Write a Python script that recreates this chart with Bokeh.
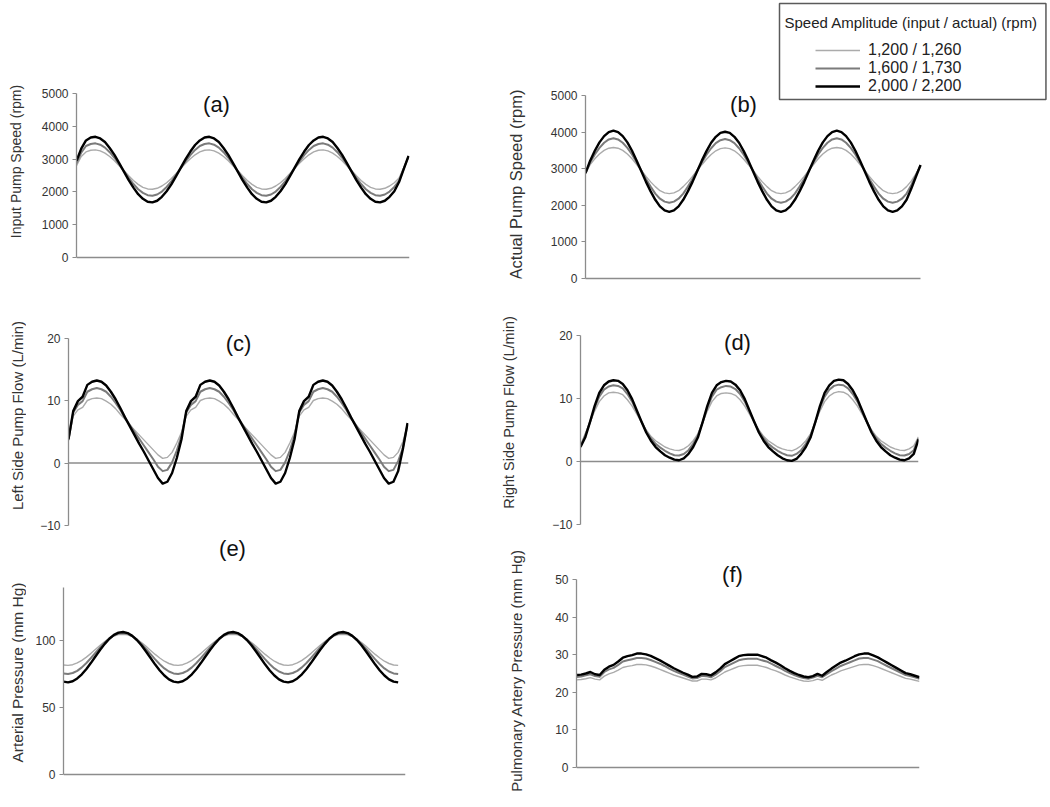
import math
from bokeh.plotting import figure
from bokeh.models import Range1d, FixedTicker, Label, Legend, LegendItem, Span
from bokeh.layouts import row, column
from bokeh.embed import file_html
from bokeh.resources import INLINE

# ---------------- data ----------------
series_names = ["1,200 / 1,260", "1,600 / 1,730", "2,000 / 2,200"]

# (a) Input pump speed (rpm)
a_light = [2800, 3080, 3220, 3270, 3280, 3250, 3180, 3080, 2950, 2800, 2650, 2490,
           2350, 2230, 2140, 2090, 2080, 2110, 2180, 2280, 2410, 2560, 2720, 2870,
           3010, 3130, 3220, 3270, 3280, 3250, 3180, 3080, 2950, 2800, 2650, 2490,
           2350, 2230, 2140, 2090, 2080, 2110, 2180, 2280, 2410, 2560, 2720, 2870,
           3010, 3130, 3220, 3270, 3280, 3250, 3180, 3080, 2950, 2800, 2650, 2490,
           2350, 2230, 2140, 2090, 2080, 2110, 2180, 2280, 2420, 2740, 3060]
a_mid = [2870, 3200, 3400, 3460, 3480, 3440, 3350, 3210, 3040, 2840, 2630, 2430,
         2240, 2080, 1970, 1900, 1880, 1920, 2010, 2150, 2320, 2520, 2730, 2930,
         3120, 3280, 3400, 3460, 3480, 3440, 3350, 3210, 3040, 2840, 2630, 2430,
         2240, 2080, 1970, 1900, 1880, 1920, 2010, 2150, 2320, 2520, 2730, 2930,
         3120, 3280, 3400, 3460, 3480, 3440, 3350, 3210, 3040, 2840, 2630, 2430,
         2240, 2080, 1970, 1900, 1880, 1920, 2010, 2150, 2340, 2720, 3080]
a_dark = [2950, 3320, 3570, 3660, 3680, 3630, 3520, 3340, 3130, 2880, 2620, 2360,
          2130, 1930, 1790, 1700, 1680, 1730, 1850, 2020, 2230, 2480, 2740, 3000,
          3230, 3430, 3570, 3660, 3680, 3630, 3520, 3340, 3130, 2880, 2620, 2360,
          2130, 1930, 1790, 1700, 1680, 1730, 1850, 2020, 2230, 2480, 2740, 3000,
          3230, 3430, 3570, 3660, 3680, 3630, 3520, 3340, 3130, 2880, 2620, 2360,
          2130, 1930, 1790, 1700, 1680, 1730, 1850, 2020, 2300, 2700, 3100]

# (b) Actual pump speed (rpm)
b_light = [2880, 3110, 3270, 3400, 3500, 3560, 3580, 3560, 3500, 3400, 3270, 3110,
           2950, 2790, 2640, 2510, 2400, 2340, 2320, 2340, 2400, 2510, 2640, 2790,
           2950, 3110, 3260, 3390, 3490, 3550, 3570, 3550, 3490, 3390, 3260, 3110,
           2950, 2790, 2640, 2510, 2400, 2340, 2320, 2340, 2400, 2510, 2640, 2790,
           2950, 3110, 3270, 3400, 3500, 3560, 3580, 3560, 3500, 3400, 3270, 3110,
           2950, 2790, 2640, 2510, 2400, 2340, 2320, 2340, 2400, 2510, 2660, 2860, 3080]
b_mid = [2880, 3170, 3390, 3570, 3710, 3800, 3830, 3800, 3710, 3570, 3390, 3170,
         2950, 2720, 2510, 2320, 2180, 2100, 2070, 2100, 2180, 2320, 2510, 2720,
         2950, 3170, 3380, 3560, 3700, 3780, 3810, 3780, 3700, 3560, 3380, 3170,
         2950, 2720, 2510, 2320, 2180, 2100, 2070, 2100, 2180, 2320, 2510, 2720,
         2950, 3170, 3390, 3570, 3710, 3800, 3830, 3800, 3710, 3570, 3390, 3170,
         2950, 2720, 2510, 2320, 2180, 2100, 2070, 2100, 2180, 2320, 2550, 2820, 3090]
b_dark = [2880, 3220, 3490, 3720, 3890, 4000, 4040, 4000, 3890, 3720, 3490, 3220,
          2930, 2640, 2380, 2150, 1970, 1860, 1820, 1860, 1970, 2150, 2380, 2640,
          2930, 3220, 3480, 3710, 3870, 3980, 4010, 3980, 3870, 3710, 3480, 3220,
          2930, 2640, 2380, 2150, 1970, 1860, 1820, 1860, 1970, 2150, 2380, 2640,
          2930, 3220, 3490, 3720, 3890, 4000, 4040, 4000, 3890, 3720, 3490, 3220,
          2930, 2640, 2380, 2150, 1970, 1860, 1820, 1860, 1970, 2150, 2450, 2780, 3100]

# (c) Left side pump flow (L/min)
c_light = [3.6, 7.5, 8.5, 8.9, 10.0, 10.3, 10.4, 10.3, 9.9, 9.4, 8.7, 7.8, 7.0, 6.1, 5.3,
           4.5, 3.7, 2.9, 2.1, 1.3,
           0.75, 0.9, 1.7, 3.2, 4.9, 7.5, 8.5, 8.9, 10.0, 10.3, 10.4, 10.3, 9.9, 9.4, 8.7,
           7.8, 7.0, 6.1, 5.3, 4.5, 3.7, 2.9, 2.1, 1.3,
           0.75, 0.9, 1.7, 3.2, 4.9, 7.5, 8.5, 8.9, 10.0, 10.3, 10.4, 10.3, 9.9, 9.4, 8.7,
           7.8, 7.0, 6.1, 5.3, 4.5, 3.7, 2.9, 2.1, 1.3,
           0.75, 0.9, 1.7, 3.4, 6.0]
c_mid = [3.8, 8.1, 9.3, 9.9, 11.4, 11.8, 12.0, 11.8, 11.4, 10.6, 9.6, 8.5, 7.2, 6.1, 5.0,
         3.9, 2.8, 1.7, 0.6, -0.6,
         -1.3, -1.1, 0.1, 2.0, 4.4, 8.1, 9.3, 9.9, 11.4, 11.8, 12.0, 11.8, 11.4, 10.6, 9.6,
         8.5, 7.2, 6.1, 5.0, 3.9, 2.8, 1.7, 0.6, -0.6,
         -1.3, -1.1, 0.1, 2.0, 4.4, 8.1, 9.3, 9.9, 11.4, 11.8, 12.0, 11.8, 11.4, 10.6, 9.6,
         8.5, 7.2, 6.1, 5.0, 3.9, 2.8, 1.7, 0.6, -0.6,
         -1.3, -1.1, 0.3, 2.4, 6.2]
c_dark = [3.8, 8.3, 9.9, 10.6, 12.5, 13.0, 13.2, 13.0, 12.4, 11.4, 10.2, 8.8, 7.3, 5.9, 4.5,
          3.1, 1.8, 0.4, -1.0, -2.4,
          -3.3, -3.0, -1.6, 0.8, 3.8, 8.3, 9.9, 10.6, 12.5, 13.0, 13.2, 13.0, 12.4, 11.4, 10.2,
          8.8, 7.3, 5.9, 4.5, 3.1, 1.8, 0.4, -1.0, -2.4,
          -3.3, -3.0, -1.6, 0.8, 3.8, 8.3, 9.9, 10.6, 12.5, 13.0, 13.2, 13.0, 12.4, 11.4, 10.2,
          8.8, 7.3, 5.9, 4.5, 3.1, 1.8, 0.4, -1.0, -2.4,
          -3.3, -3.0, -1.3, 2.2, 6.4]

# (d) Right side pump flow (L/min)
d_light = [2.5, 4.4, 6.1, 8.0, 9.5, 10.4, 10.9, 11.0, 10.9, 10.6, 9.8, 8.8,
           7.5, 6.2, 5.0, 4.0, 3.3, 2.8, 2.3, 2.0, 1.8, 1.75, 2.0, 2.5,
           3.3, 4.4, 6.1, 8.0, 9.5, 10.4, 10.8, 10.9, 10.8, 10.5, 9.8, 8.8,
           7.5, 6.2, 5.0, 4.0, 3.3, 2.8, 2.3, 2.0, 1.8, 1.7, 2.0, 2.5,
           3.3, 4.4, 6.1, 8.0, 9.5, 10.4, 10.9, 11.1, 11.0, 10.6, 9.8, 8.8,
           7.5, 6.2, 5.0, 4.0, 3.3, 2.8, 2.3, 2.0, 1.8, 1.75, 2.0, 2.5, 3.9]
d_mid = [2.4, 4.1, 6.2, 8.5, 10.3, 11.4, 11.9, 12.1, 12.0, 11.6, 10.7, 9.5,
         7.9, 6.3, 4.8, 3.7, 2.8, 2.2, 1.7, 1.3, 1.0, 0.95, 1.2, 1.8,
         2.8, 4.1, 6.2, 8.5, 10.3, 11.4, 11.8, 12.0, 11.9, 11.5, 10.7, 9.5,
         7.9, 6.3, 4.8, 3.7, 2.8, 2.2, 1.7, 1.3, 1.0, 0.9, 1.2, 1.8,
         2.8, 4.1, 6.2, 8.5, 10.3, 11.4, 12.0, 12.2, 12.1, 11.6, 10.7, 9.5,
         7.9, 6.3, 4.8, 3.7, 2.8, 2.2, 1.7, 1.3, 1.0, 0.95, 1.2, 1.8, 3.7]
d_dark = [2.3, 3.8, 6.2, 8.8, 10.9, 12.1, 12.7, 12.9, 12.8, 12.3, 11.3, 9.9,
          8.1, 6.3, 4.6, 3.3, 2.3, 1.6, 1.0, 0.6, 0.3, 0.2, 0.5, 1.2,
          2.3, 3.8, 6.2, 8.8, 10.9, 12.1, 12.6, 12.8, 12.7, 12.2, 11.3, 9.9,
          8.1, 6.3, 4.6, 3.3, 2.3, 1.6, 1.0, 0.5, 0.2, 0.1, 0.4, 1.2,
          2.3, 3.8, 6.2, 8.8, 10.9, 12.1, 12.8, 13.0, 12.9, 12.3, 11.3, 9.9,
          8.1, 6.3, 4.6, 3.3, 2.3, 1.6, 1.0, 0.6, 0.3, 0.2, 0.5, 1.2, 3.5]

# (e) Arterial pressure (mm Hg)
e_light = [82.0, 81.7, 82.2, 83.5, 85.4, 87.9, 90.7, 93.8, 96.8, 99.5, 101.9, 103.6,
           104.7, 105.0, 104.5, 103.2, 101.3, 98.8, 96.0, 92.9, 89.9, 87.2, 84.8, 83.1,
           82.0, 81.7, 82.2, 83.5, 85.4, 87.9, 90.7, 93.8, 96.8, 99.5, 101.9, 103.6,
           104.7, 105.0, 104.5, 103.2, 101.3, 98.8, 96.0, 92.9, 89.9, 87.2, 84.8, 83.1,
           82.0, 81.7, 82.2, 83.5, 85.4, 87.9, 90.7, 93.8, 96.8, 99.5, 101.9, 103.6,
           104.7, 105.0, 104.5, 103.2, 101.3, 98.8, 96.0, 92.9, 89.9, 87.2, 84.8, 83.1,
           82.0, 81.7]
e_mid = [75.7, 75.3, 76.0, 77.6, 80.2, 83.5, 87.2, 91.2, 95.1, 98.8, 101.9, 104.2,
         105.6, 106.0, 105.3, 103.7, 101.1, 97.8, 94.1, 90.1, 86.2, 82.5, 79.4, 77.1,
         75.7, 75.3, 76.0, 77.6, 80.2, 83.5, 87.2, 91.2, 95.1, 98.8, 101.9, 104.2,
         105.6, 106.0, 105.3, 103.7, 101.1, 97.8, 94.1, 90.1, 86.2, 82.5, 79.4, 77.1,
         75.7, 75.3, 76.0, 77.6, 80.2, 83.5, 87.2, 91.2, 95.1, 98.8, 101.9, 104.2,
         105.6, 106.0, 105.3, 103.7, 101.1, 97.8, 94.1, 90.1, 86.2, 82.5, 79.4, 77.1,
         75.7, 75.3]
e_dark = [69.5, 69.0, 69.8, 71.9, 75.0, 79.0, 83.6, 88.5, 93.4, 97.8, 101.6, 104.5,
          106.2, 106.7, 105.9, 103.8, 100.7, 96.7, 92.1, 87.2, 82.3, 77.9, 74.1, 71.2,
          69.5, 69.0, 69.8, 71.9, 75.0, 79.0, 83.6, 88.5, 93.4, 97.8, 101.6, 104.5,
          106.2, 106.7, 105.9, 103.8, 100.7, 96.7, 92.1, 87.2, 82.3, 77.9, 74.1, 71.2,
          69.5, 69.0, 69.8, 71.9, 75.0, 79.0, 83.6, 88.5, 93.4, 97.8, 101.6, 104.5,
          106.2, 106.7, 105.9, 103.8, 100.7, 96.7, 92.1, 87.2, 82.3, 77.9, 74.1, 71.2,
          69.5, 69.0]

# (f) Pulmonary artery pressure (mm Hg)
f_light = [23.3, 23.4, 23.6, 23.9, 23.5, 23.3, 24.3, 24.9, 25.3, 25.9,
           26.6, 26.9, 27.1, 27.4, 27.4, 27.3, 27.0, 26.6, 26.1, 25.6,
           25.1, 24.6, 24.2, 23.8, 23.4, 23.0, 23.0, 23.5, 23.5, 23.3,
           23.8, 24.6, 25.4, 25.9, 26.4, 26.9, 27.1, 27.2, 27.2, 27.2,
           26.9, 26.6, 26.1, 25.7, 25.2, 24.6, 24.1, 23.7, 23.3, 23.0,
           22.9, 23.1, 23.5, 23.2, 23.9, 24.6, 25.1, 25.7, 26.1, 26.5,
           26.9, 27.3, 27.4, 27.4, 27.1, 26.7, 26.2, 25.7, 25.2, 24.7,
           24.2, 23.7, 23.5, 23.2, 22.9]
f_mid = [24.1, 24.2, 24.5, 24.8, 24.3, 24.1, 25.4, 26.1, 26.5, 27.3,
         28.2, 28.5, 28.8, 29.1, 29.1, 29.0, 28.6, 28.1, 27.6, 27.0,
         26.3, 25.7, 25.2, 24.7, 24.2, 23.7, 23.8, 24.4, 24.3, 24.0,
         24.7, 25.6, 26.7, 27.3, 27.9, 28.5, 28.8, 28.9, 28.9, 28.9,
         28.5, 28.2, 27.6, 27.0, 26.4, 25.7, 25.1, 24.6, 24.1, 23.8,
         23.6, 23.9, 24.4, 24.0, 24.8, 25.6, 26.3, 27.0, 27.5, 28.0,
         28.5, 29.0, 29.1, 29.1, 28.7, 28.3, 27.6, 27.0, 26.4, 25.8,
         25.2, 24.6, 24.3, 24.0, 23.6]
f_dark = [24.6, 24.7, 25.0, 25.4, 24.8, 24.6, 26.0, 26.8, 27.3, 28.2,
          29.2, 29.6, 29.9, 30.3, 30.3, 30.1, 29.7, 29.1, 28.5, 27.8,
          27.1, 26.4, 25.8, 25.2, 24.7, 24.1, 24.2, 24.9, 24.8, 24.5,
          25.3, 26.3, 27.5, 28.2, 28.9, 29.6, 29.9, 30.0, 30.0, 30.0,
          29.6, 29.2, 28.5, 27.9, 27.2, 26.4, 25.7, 25.1, 24.6, 24.2,
          24.0, 24.3, 24.9, 24.4, 25.4, 26.3, 27.1, 27.9, 28.4, 29.0,
          29.6, 30.1, 30.3, 30.3, 29.8, 29.3, 28.6, 27.9, 27.2, 26.5,
          25.8, 25.1, 24.8, 24.4, 24.0]

ticks_speed = [0, 1000, 2000, 3000, 4000, 5000]
ticks_flow = [-10, 0, 10, 20]
ticks_ap = [0, 50, 100]
ticks_pap = [0, 10, 20, 30, 40, 50]

# ---------------- styling ----------------
FONT = "Liberation Sans"
COLORS = ["#ababab", "#7b7b7b", "#000000"]
WIDTHS = [1.4, 2.0, 2.4]
AXIS_GREY = "#8c8c8c"
TEXT = "#333333"


def panel(series, fig_w, fig_h, border_l, border_r, border_b, zero_px, px_per_unit,
          y_bounds, ticks, x_end=None, x_axis=False):
    """zero_px: pixel row (from the figure top) of the value 0."""
    n = len(series[0])
    xe = (n - 1) if x_end is None else x_end
    frame_h = fig_h - border_b
    y_top = zero_px / px_per_unit
    y_bot = -(frame_h - zero_px) / px_per_unit
    p = figure(width=fig_w, height=fig_h, output_backend="svg",
               toolbar_location=None, title=None,
               x_axis_location="below" if x_axis else None,
               x_range=Range1d(0, xe), y_range=Range1d(y_bot, y_top),
               min_border_left=border_l, min_border_right=border_r,
               min_border_top=0, min_border_bottom=border_b)
    p.outline_line_color = None
    p.grid.visible = False
    p.background_fill_color = "white"
    p.border_fill_color = "white"
    xs = list(range(n))
    rs = []
    for vals, c, w in zip(series, COLORS, WIDTHS):
        rs.append(p.line(xs, vals, line_color=c, line_width=w, line_join="round"))
    ax = p.yaxis[0]
    ax.ticker = FixedTicker(ticks=ticks)
    ax.bounds = y_bounds
    ax.axis_line_color = AXIS_GREY
    ax.axis_line_width = 1.3
    ax.major_tick_line_color = AXIS_GREY
    ax.major_tick_out = 4
    ax.major_tick_in = 0
    ax.minor_tick_line_color = None
    ax.major_label_standoff = 4
    ax.major_label_text_font = FONT
    ax.major_label_text_font_size = "12px"
    ax.major_label_text_color = TEXT
    if x_axis:
        xa = p.xaxis[0]
        xa.ticker = FixedTicker(ticks=[])
        xa.bounds = (0, n - 1)
        xa.axis_line_color = AXIS_GREY
        xa.axis_line_width = 1.3
        xa.major_tick_line_color = None
        xa.minor_tick_line_color = None
        xa.major_tick_out = 0
        xa.major_label_standoff = 0
        xa.major_label_text_font_size = "0px"
    else:
        p.add_layout(Span(location=0, dimension="width", line_color=AXIS_GREY,
                          line_width=1.3, level="underlay"))
    return p, rs


def add_title(p, text, x, y):
    p.add_layout(Label(x=x, y=y, x_units="screen", y_units="screen",
                       text=text, text_align="center", text_baseline="middle",
                       text_font=FONT, text_font_size="22px", text_color="#111111"))


def strip(text, w, h, cx, cy, size):
    s = figure(width=w, height=h, output_backend="svg", toolbar_location=None,
               title=None, x_axis_location=None, y_axis_location=None,
               x_range=Range1d(0, 1), y_range=Range1d(0, 1),
               min_border_left=0, min_border_right=0, min_border_top=0,
               min_border_bottom=0)
    s.outline_line_color = None
    s.grid.visible = False
    s.add_layout(Label(x=cx, y=cy, x_units="screen", y_units="screen", text=text,
                       angle=math.pi / 2, text_align="center", text_baseline="middle",
                       text_font=FONT, text_font_size=size, text_color=TEXT))
    return s


# ---- left column: strip 0..26, plots 26..498 ----
pa, _ = panel([a_light, a_mid, a_dark], 472, 300, 50, 89, 0, 257, 164 / 5000,
              (0, 5000), ticks_speed, x_end=70.2)
add_title(pa, "(a)", 140, 196)
sa = strip("Input Pump Speed (rpm)", 26, 300, 15, 139, "14px")

pc, _ = panel([c_light, c_mid, c_dark], 472, 235, 42, 90, 0, 162.5, 6.25,
              (-10, 20), ticks_flow, x_end=72.2)
add_title(pc, "(c)", 170, 192)
sc = strip("Left Side Pump Flow (L/min)", 26, 235, 17, 120, "15px")

pe, _ = panel([e_light, e_mid, e_dark], 472, 270, 37, 93, 0, 239, 187 / 140,
              (0, 140), ticks_ap, x_end=74.6)
add_title(pe, "(e)", 169, 257)
se = strip("Arterial Pressure (mm Hg)", 26, 270, 17, 133, "15.5px")

# ---- right column: strip 498..528, plots 528..1048 ----
pb, rb = panel([b_light, b_mid, b_dark], 520, 300, 57, 0, 22, 278, 183 / 5000,
               (0, 5000), ticks_speed, x_end=99.5, x_axis=True)
add_title(pb, "(b)", 158, 174)
sb = strip("Actual Pump Speed (rpm)", 30, 300, 17, 94, "16.5px")

pd, _ = panel([d_light, d_mid, d_dark], 520, 235, 52, 130, 0, 161, 6.3,
              (-10, 20), ticks_flow)
add_title(pd, "(d)", 157, 193)
sd = strip("Right Side Pump Flow (L/min)", 30, 235, 10, 123, "14.5px")

pf, _ = panel([f_light, f_mid, f_dark], 520, 270, 48, 129, 0, 232, 188 / 50,
              (0, 50), ticks_pap)
add_title(pf, "(f)", 156, 231)
sf = strip("Pulmonary Artery Pressure (mm Hg)", 30, 270, 18, 135, "15px")

# legend: framed title box + centred items (inside panel b's frame)
pb.add_layout(Label(x=194, y=275, x_units="screen", y_units="screen",
                    text="Speed Amplitude (input / actual) (rpm)",
                    text_align="left", text_baseline="top",
                    text_font=FONT, text_font_size="15px", text_color="#222222",
                    background_fill_color="white", border_line_color="#5a5a5a",
                    border_line_width=1.5,
                    padding={"top": 10, "right": 8, "bottom": 69, "left": 5}))
legend = Legend(items=[LegendItem(label=nm, renderers=[r]) for nm, r in zip(series_names, rb)],
                location=(230, 183), border_line_color=None, background_fill_alpha=0,
                padding=0, margin=0, spacing=0, glyph_width=45, glyph_height=18,
                label_height=18, label_standoff=8)
legend.label_text_font = FONT
legend.label_text_font_size = "16px"
legend.label_text_color = "#222222"
pb.add_layout(legend)

left = column(row(sa, pa), row(sc, pc), row(se, pe))
right = column(row(sb, pb), row(sd, pd), row(sf, pf))
layout = row(left, right)

with open("out.html", "w") as fh:
    fh.write(file_html(layout, INLINE))
